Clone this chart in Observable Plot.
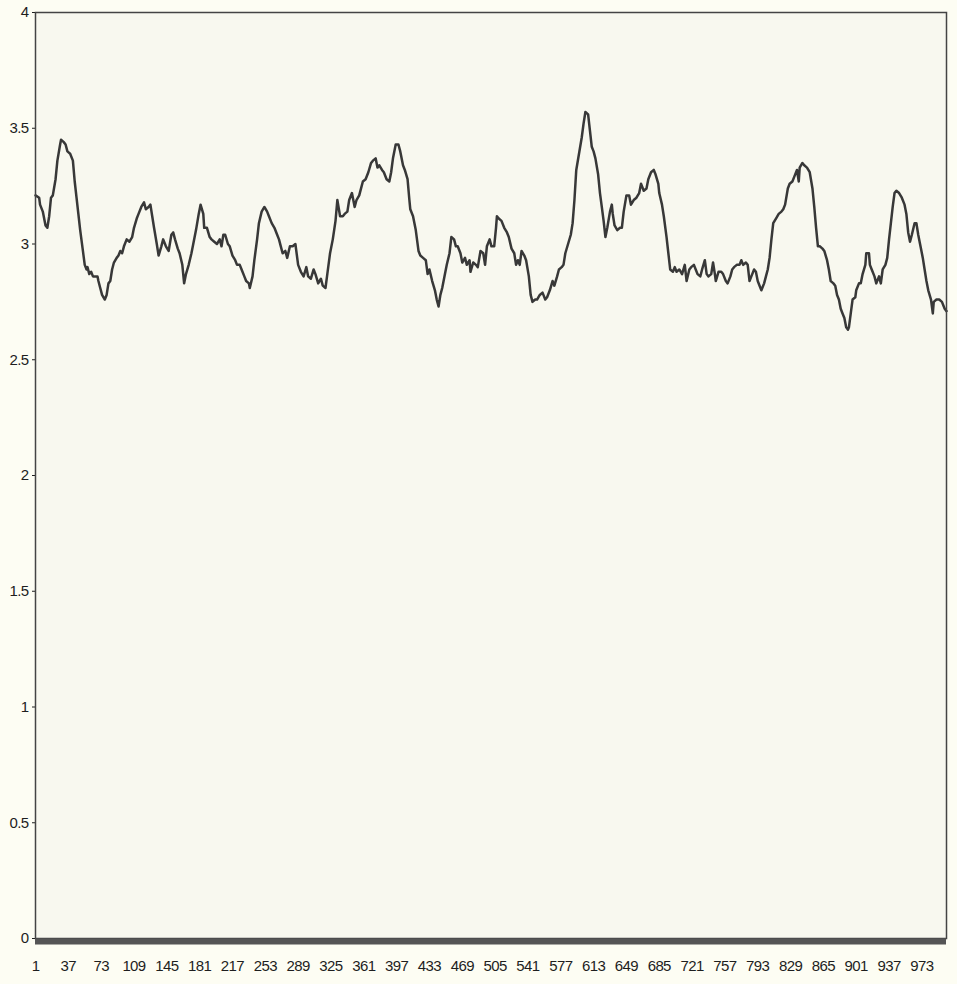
<!DOCTYPE html>
<html><head><meta charset="utf-8">
<script src="https://cdn.jsdelivr.net/npm/d3@7"></script>
<script src="https://cdn.jsdelivr.net/npm/@observablehq/plot@0.6"></script>
<style>html,body{margin:0;padding:0;background:#fdfdf3;}</style>
</head><body><div id="chart"></div>
<script>
const index = [1,5,6,9,12,14,16,18,20,23,25,28,29,32,34,36,39,42,44,46,48,50,53,55,57,58,60,62,64,66,69,70,72,74,77,79,81,83,85,87,90,92,94,96,98,101,104,107,109,112,114,117,120,122,125,127,129,131,134,136,139,141,144,147,150,152,154,157,159,162,164,166,169,172,174,177,180,182,185,186,189,192,194,197,200,203,205,207,209,212,214,217,220,222,225,227,230,232,235,236,239,241,244,246,249,252,255,257,260,263,266,268,270,272,275,277,280,283,286,289,292,295,298,300,303,306,308,311,314,316,319,321,324,327,330,332,335,338,340,343,345,348,351,353,356,358,360,363,366,369,371,374,376,378,381,383,386,389,391,393,396,399,401,404,406,409,411,412,415,418,421,423,426,429,431,433,436,439,441,443,445,447,450,452,455,457,460,462,464,467,469,472,474,477,478,481,484,486,489,492,494,496,499,501,504,506,507,509,512,515,518,520,523,526,528,530,532,534,537,539,542,544,546,549,551,554,557,560,562,565,568,570,573,575,578,580,582,585,588,590,592,594,597,600,602,604,607,609,611,613,615,618,620,622,624,626,628,631,633,634,636,639,642,644,646,649,652,654,657,660,663,665,668,671,673,676,679,681,684,685,688,690,693,695,697,700,702,704,707,710,713,715,718,720,723,725,727,730,732,735,737,739,742,744,746,747,750,753,755,758,760,763,765,767,770,773,775,777,780,782,784,786,789,791,793,795,797,800,802,804,806,808,810,813,816,819,821,823,826,828,831,833,836,838,839,842,844,847,850,853,855,857,859,861,864,866,869,871,873,876,878,880,882,884,886,888,890,892,893,895,897,900,901,904,906,908,911,912,915,916,918,921,923,926,928,930,933,935,937,939,941,943,945,948,951,954,956,958,960,962,965,967,969,971,974,976,978,980,983,985,986,989,992,995,998,1000];
const value = [3.21,3.20,3.17,3.14,3.08,3.07,3.12,3.20,3.21,3.28,3.36,3.43,3.45,3.44,3.43,3.40,3.39,3.36,3.27,3.20,3.13,3.06,2.97,2.91,2.89,2.90,2.87,2.88,2.86,2.86,2.86,2.84,2.81,2.78,2.76,2.78,2.83,2.84,2.89,2.92,2.94,2.95,2.97,2.96,2.99,3.02,3.01,3.03,3.07,3.11,3.13,3.16,3.18,3.15,3.16,3.17,3.12,3.07,3.00,2.95,2.99,3.02,2.99,2.97,3.04,3.05,3.02,2.98,2.96,2.91,2.83,2.87,2.91,2.96,3.00,3.06,3.13,3.17,3.13,3.07,3.07,3.03,3.02,3.01,3.00,3.02,2.99,3.04,3.04,3.00,2.99,2.95,2.93,2.91,2.91,2.89,2.86,2.84,2.83,2.81,2.86,2.93,3.02,3.09,3.14,3.16,3.14,3.12,3.09,3.07,3.04,3.02,2.99,2.96,2.97,2.94,2.99,2.99,3.00,2.91,2.88,2.86,2.90,2.86,2.85,2.89,2.87,2.83,2.85,2.82,2.81,2.87,2.96,3.02,3.10,3.19,3.12,3.12,3.13,3.14,3.19,3.22,3.16,3.19,3.21,3.24,3.27,3.28,3.31,3.35,3.36,3.37,3.33,3.34,3.32,3.31,3.28,3.27,3.31,3.37,3.43,3.43,3.40,3.34,3.32,3.28,3.19,3.15,3.12,3.06,2.97,2.95,2.94,2.93,2.87,2.89,2.84,2.80,2.76,2.73,2.78,2.81,2.87,2.91,2.96,3.03,3.02,2.99,2.99,2.96,2.92,2.94,2.91,2.93,2.88,2.92,2.91,2.90,2.97,2.96,2.91,2.99,3.02,2.99,2.99,3.07,3.12,3.11,3.10,3.07,3.05,3.03,2.98,2.96,2.91,2.93,2.91,2.97,2.95,2.93,2.86,2.78,2.75,2.76,2.76,2.78,2.79,2.76,2.77,2.80,2.84,2.82,2.86,2.89,2.90,2.91,2.96,3.00,3.04,3.09,3.19,3.32,3.39,3.46,3.52,3.57,3.56,3.49,3.42,3.40,3.37,3.30,3.22,3.16,3.10,3.03,3.07,3.14,3.17,3.13,3.08,3.06,3.07,3.07,3.14,3.21,3.21,3.17,3.19,3.20,3.22,3.26,3.23,3.24,3.28,3.31,3.32,3.30,3.26,3.22,3.17,3.12,3.03,2.96,2.89,2.88,2.90,2.88,2.89,2.87,2.91,2.84,2.89,2.90,2.91,2.89,2.87,2.86,2.89,2.93,2.87,2.86,2.87,2.92,2.87,2.84,2.88,2.88,2.87,2.84,2.83,2.86,2.89,2.90,2.91,2.91,2.93,2.91,2.92,2.91,2.84,2.86,2.89,2.88,2.84,2.82,2.80,2.83,2.86,2.89,2.94,3.02,3.09,3.11,3.13,3.14,3.15,3.17,3.24,3.26,3.27,3.29,3.32,3.27,3.33,3.35,3.34,3.33,3.31,3.24,3.16,3.07,2.99,2.99,2.98,2.97,2.93,2.89,2.84,2.83,2.82,2.78,2.76,2.72,2.70,2.68,2.64,2.63,2.64,2.70,2.76,2.77,2.80,2.83,2.83,2.87,2.91,2.96,2.96,2.91,2.89,2.86,2.83,2.86,2.83,2.89,2.91,2.94,3.02,3.09,3.16,3.22,3.23,3.22,3.20,3.17,3.13,3.05,3.01,3.04,3.09,3.09,3.04,3.00,2.94,2.89,2.84,2.80,2.76,2.70,2.75,2.76,2.76,2.75,2.72,2.71];
const xTicks = [1,37,73,109,145,181,217,253,289,325,361,397,433,469,505,541,577,613,649,685,721,757,793,829,865,901,937,973];
const yTicks = [0,0.5,1,1.5,2,2.5,3,3.5,4];

const data = index.map((x, i) => ({x, y: value[i]}));

const chart = Plot.plot({
  width: 957,
  height: 984,
  marginLeft: 35,
  marginRight: 11,
  marginTop: 12,
  marginBottom: 46,
  style: {background: "#fdfdf3", fontFamily: "'Liberation Sans', Arial, sans-serif", fontSize: "15px", color: "#1e1e1e", letterSpacing: "-0.6px"},
  x: {domain: [1, 1000], ticks: xTicks, tickFormat: d => String(d), tickSize: 0, tickPadding: 22, label: null},
  y: {domain: [0, 4], ticks: yTicks, tickFormat: d => String(d), tickSize: 3, tickPadding: 4, label: null},
  marks: [
    Plot.frame({fill: "#f8f8ef", stroke: null}),
    Plot.line(data, {x: "x", y: "y", stroke: "#383838", strokeWidth: 2.5}),
    Plot.frame({stroke: "#444", strokeWidth: 1.5}),
    Plot.ruleY([0], {stroke: "#555", strokeWidth: 6, dy: 3})
  ]
});
document.getElementById("chart").appendChild(chart);
</script>
</body></html>
